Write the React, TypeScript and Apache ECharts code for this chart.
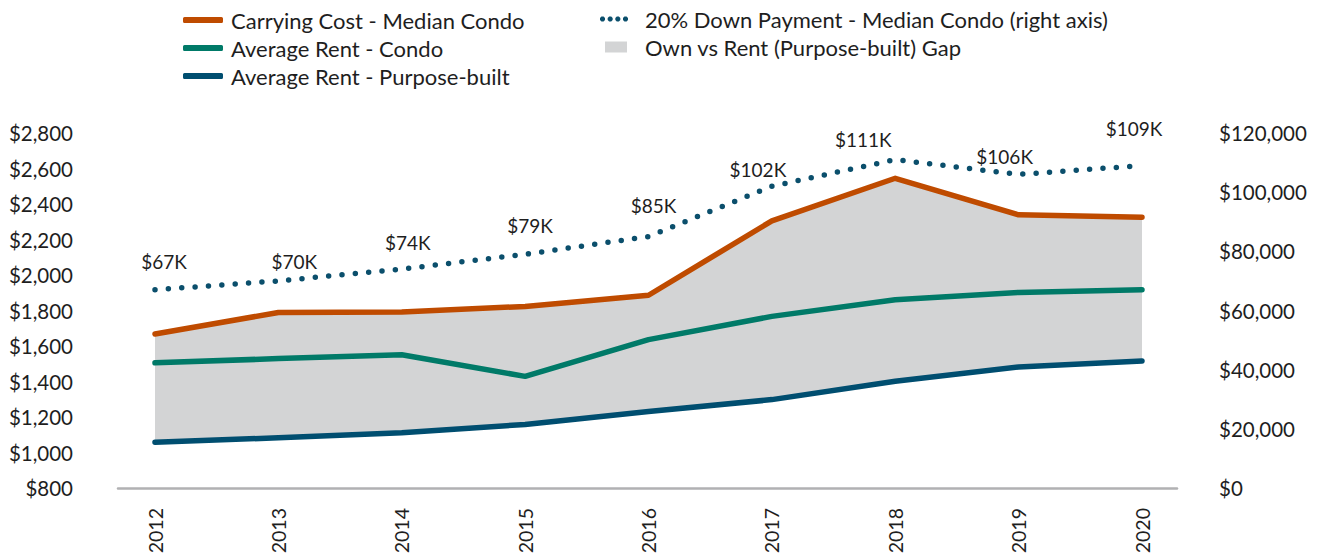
import React, { useEffect, useRef } from "react";
import * as echarts from "echarts";

const years = ["2012", "2013", "2014", "2015", "2016", "2017", "2018", "2019", "2020"];
const carryingCost = [1668, 1789, 1792, 1823, 1886, 2305, 2545, 2339, 2326];
const rentCondo = [1505, 1529, 1551, 1429, 1636, 1767, 1861, 1902, 1917];
const rentPurposeBuilt = [1058, 1083, 1111, 1158, 1231, 1298, 1401, 1482, 1516];
const downPayment = [67000, 70000, 74000, 79000, 85000, 102000, 111000, 106000, 109000];

const leftTicks = { min: 800, max: 2800, interval: 200 };
const rightTicks = { min: 0, max: 120000, interval: 20000 };

// label placement (layout only)
const labelOffsets: [number, number][] = [
  [9, -28], [16, -19], [6, -27], [5, -29], [5, -31], [-14, -17], [-32, -20], [-14, -18], [-8, -37],
];

const TEXT = "#1e1e1e";
const FONT = "Lato, 'Noto Sans', sans-serif";
const C_CARRY = "#bf4b00";
const C_CONDO = "#007a68";
const C_PB = "#004e70";
const C_DP = "#0b4f6c";
const C_GAP = "#d3d4d5";

const N_CARRY = "Carrying Cost - Median Condo";
const N_CONDO = "Average Rent - Condo";
const N_PB = "Average Rent - Purpose-built";
const N_DP = "20% Down Payment - Median Condo (right axis)";
const N_GAP = "Own vs Rent (Purpose-built) Gap";

const dot = (cx: number) => {
  const a = 1.04, r = 2.5;
  const p = (x: number, y: number) => `${(cx + x).toFixed(2)},${y.toFixed(2)}`;
  return `M${p(-a, 0)}L${p(a, 0)}L${p(r, r - a)}L${p(r, r + a)}L${p(a, 2 * r)}L${p(-a, 2 * r)}L${p(-r, r + a)}L${p(-r, r - a)}Z`;
};
const dotsIcon = "path://" + [2.5, 10.17, 17.83, 25.5].map(dot).join("");

const fmtMoney = (v: number) => "$" + Math.round(v).toLocaleString("en-US");

export default function App() {
  const ref = useRef<HTMLDivElement>(null);
  useEffect(() => {
    if (!ref.current) return;
    const chart = echarts.init(ref.current, null, { renderer: "svg" });
    const gap = carryingCost.map((v, i) => v - rentPurposeBuilt[i]);
    const legendText = { fontSize: 22, lineHeight: 21, color: TEXT, fontFamily: FONT };
    const lineCommon = { symbol: "none", showSymbol: false, silent: true, z: 3 };
    chart.setOption({
      animation: false,
      textStyle: { fontFamily: FONT },
      grid: [
        { left: 155, right: 177, top: 133, bottom: 70 },
        { left: 118, right: 142, top: 133, bottom: 70 },
      ],
      legend: [
        {
          left: 178, top: 4, orient: "vertical", selectedMode: false,
          itemWidth: 40, itemHeight: 6, itemGap: 6, icon: "roundRect",
          itemStyle: { borderWidth: 0 },
          textStyle: { ...legendText, padding: [0, 0, 0, 3] },
          data: [N_CARRY, N_CONDO, N_PB],
        },
        {
          left: 595, top: 3, selectedMode: false,
          itemWidth: 28, itemHeight: 5, icon: dotsIcon,
          itemStyle: { borderWidth: 0 },
          textStyle: { ...legendText, padding: [0, 0, 0, 12] },
          data: [{ name: N_DP, itemStyle: { color: C_DP, opacity: 1, borderWidth: 0 } }],
        },
        {
          left: 600, top: 31, selectedMode: false,
          itemWidth: 22, itemHeight: 11, icon: "rect",
          itemStyle: { borderWidth: 0 },
          textStyle: { ...legendText, padding: [0, 0, 0, 13] },
          data: [N_GAP],
        },
      ],
      xAxis: [
        {
          type: "category", gridIndex: 0, data: years, boundaryGap: false,
          axisLine: { show: false }, axisTick: { show: false },
          axisLabel: { rotate: 90, margin: 20, fontSize: 19.5, color: TEXT, fontFamily: FONT },
        },
        {
          type: "value", gridIndex: 1, min: 0, max: 1,
          axisLine: { show: true, onZero: false, lineStyle: { color: "#b1b1b3", width: 2.5 } },
          axisTick: { show: false }, axisLabel: { show: false }, splitLine: { show: false },
        },
      ],
      yAxis: [
        {
          type: "value", gridIndex: 0, ...leftTicks,
          axisLine: { show: false }, axisTick: { show: false }, splitLine: { show: false },
          axisLabel: { margin: 82, fontSize: 20.5, color: TEXT, fontFamily: FONT, formatter: fmtMoney },
        },
        {
          type: "value", gridIndex: 0, position: "right", ...rightTicks,
          axisLine: { show: false }, axisTick: { show: false }, splitLine: { show: false },
          axisLabel: { margin: 77, fontSize: 20.5, color: TEXT, fontFamily: FONT, formatter: fmtMoney },
        },
        { type: "value", gridIndex: 1, show: false, min: 0, max: 1 },
      ],
      series: [
        {
          name: "gapBase", type: "line", stack: "gap", data: rentPurposeBuilt,
          symbol: "none", showSymbol: false, silent: true, z: 1,
          lineStyle: { width: 0, opacity: 0 },
        },
        {
          name: N_GAP, type: "line", stack: "gap", data: gap,
          symbol: "none", showSymbol: false, silent: true, z: 1,
          itemStyle: { color: C_GAP },
          lineStyle: { width: 0, color: C_GAP },
          areaStyle: { color: C_GAP, opacity: 1 },
        },
        {
          ...lineCommon, name: N_PB, type: "line", data: rentPurposeBuilt,
          itemStyle: { color: C_PB },
          lineStyle: { color: C_PB, width: 5.5, cap: "round", join: "round" },
        },
        {
          ...lineCommon, name: N_CONDO, type: "line", data: rentCondo,
          itemStyle: { color: C_CONDO },
          lineStyle: { color: C_CONDO, width: 5.5, cap: "round", join: "round" },
        },
        {
          ...lineCommon, name: N_CARRY, type: "line", data: carryingCost,
          itemStyle: { color: C_CARRY },
          lineStyle: { color: C_CARRY, width: 5.5, cap: "round", join: "round" },
        },
        {
          name: N_DP, type: "line", yAxisIndex: 1, silent: true, z: 4,
          data: downPayment.map((v, i) => ({ value: v, label: { offset: labelOffsets[i] } })),
          symbol: "circle", symbolSize: 1, showSymbol: true,
          itemStyle: { color: "rgba(0,0,0,0)" },
          lineStyle: { color: C_DP, width: 5.5, type: [0, 13.4], cap: "round" },
          label: {
            show: true, position: "inside", align: "center", verticalAlign: "middle",
            fontSize: 19, color: TEXT, fontFamily: FONT,
            formatter: (p: any) => "$" + Math.round(p.value / 1000) + "K",
          },
        },
      ],
    });
    return () => chart.dispose();
  }, []);
  return (
    <div
      ref={ref}
      style={{ position: "absolute", left: 0, top: 0, width: 1319, height: 558, background: "#fff" }}
    />
  );
}
